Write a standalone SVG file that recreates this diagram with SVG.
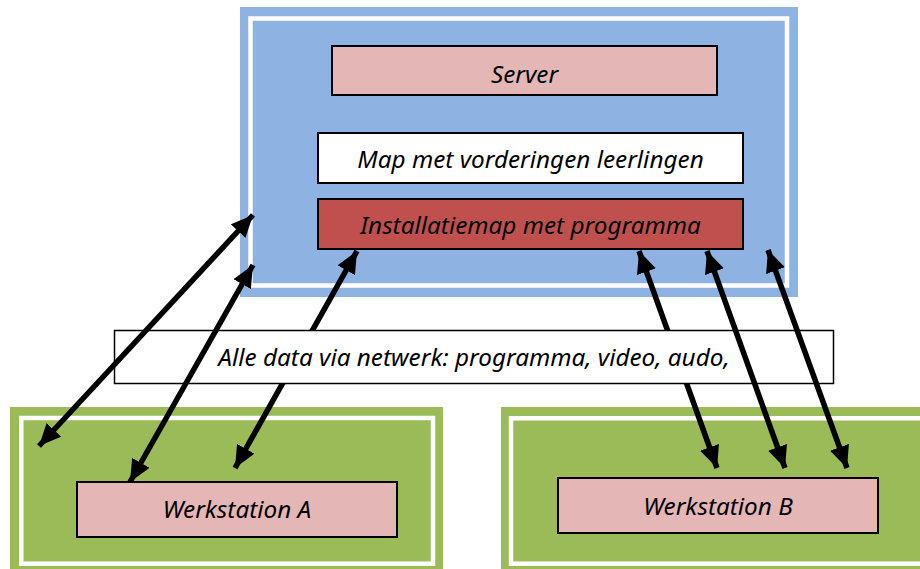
<svg xmlns="http://www.w3.org/2000/svg" width="920" height="569" viewBox="0 0 920 569">
<defs>
<marker id="ah" viewBox="0 0 22 20" refX="22" refY="10" markerWidth="22" markerHeight="20" markerUnits="userSpaceOnUse" orient="auto-start-reverse">
<path d="M0,0 L22,10 L0,20 Z" fill="#000"/>
</marker>
<style>
.t{font-family:"Noto Sans","Open Sans",sans-serif;font-style:italic;font-size:24.3px;fill:#000;text-anchor:middle}
.box{stroke:#000;stroke-width:2}
.frame{fill:none;stroke:#fff;stroke-width:4.5}
.arr{stroke:#000;stroke-width:5.5;fill:none;marker-start:url(#ah);marker-end:url(#ah)}
</style>
</defs>
<rect width="920" height="569" fill="#fff"/>
<g id="server-zone">
<rect x="240" y="7" width="558" height="290" fill="#8EB3E2"/>
<rect class="frame" x="250.5" y="18.5" width="536.5" height="267"/>
</g>
<g id="server">
<rect class="box" x="332" y="46" width="385" height="49" fill="#E4B6B6"/>
<text class="t" x="524.5" y="83">Server</text>
</g>
<g id="map-vorderingen">
<rect class="box" x="318" y="133" width="425" height="50" fill="#fff"/>
<text class="t" x="530.5" y="168">Map met vorderingen leerlingen</text>
</g>
<g id="installatiemap">
<rect class="box" x="318" y="199" width="425" height="50" fill="#C0504D"/>
<text class="t" x="530.5" y="234">Installatiemap met programma</text>
</g>
<g id="werkstation-a-zone">
<rect x="10" y="407" width="433" height="162" fill="#9BBB59"/>
<rect class="frame" x="21.3" y="418" width="411.7" height="145.7"/>
</g>
<g id="werkstation-b-zone">
<rect x="501" y="407" width="430" height="162" fill="#9BBB59"/>
<rect class="frame" x="511" y="418.3" width="430" height="145.4"/>
</g>
<g id="werkstation-a">
<rect class="box" x="77" y="482" width="320" height="55" fill="#E4B6B6"/>
<text class="t" x="237" y="518">Werkstation A</text>
</g>
<g id="werkstation-b">
<rect class="box" x="558" y="478" width="320" height="55" fill="#E4B6B6"/>
<text class="t" x="718" y="515">Werkstation B</text>
</g>
<g id="connectors-under">
<line class="arr" x1="235" y1="468" x2="357" y2="251"/>
<line class="arr" x1="717" y1="468" x2="639" y2="251"/>
</g>
<g id="netwerk">
<rect x="114.5" y="330.5" width="719" height="53" fill="#fff" stroke="#000" stroke-width="1.5"/>
<text class="t" x="474" y="366">Alle data via netwerk: programma, video, audo,</text>
</g>
<g id="connectors">
<line class="arr" x1="39" y1="446" x2="253" y2="215"/>
<line class="arr" x1="130" y1="482" x2="253" y2="265"/>
<line class="arr" x1="785" y1="468" x2="707" y2="251"/>
<line class="arr" x1="847" y1="468" x2="768" y2="250"/>
</g>
</svg>
